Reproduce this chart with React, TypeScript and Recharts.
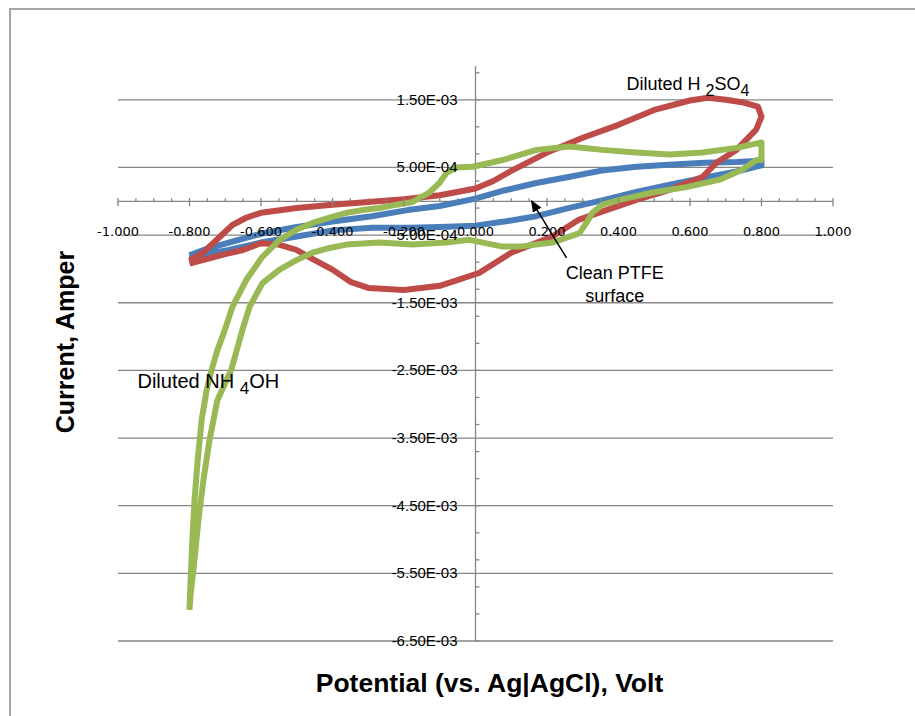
import React from 'react';
import { LineChart, Line, XAxis, YAxis, ReferenceLine, ReferenceDot } from 'recharts';

// Potential in V, current in units of 1E-03 A
const cleanPotential = [-0.8, -0.75, -0.69, -0.6, -0.5, -0.4, -0.29, -0.19, -0.1, 0.0, 0.08, 0.17, 0.26, 0.36, 0.45, 0.54, 0.64, 0.73, 0.8,
  0.8, 0.73, 0.64, 0.54, 0.45, 0.36, 0.26, 0.17, 0.08, 0.0, -0.1, -0.19, -0.29, -0.4, -0.5, -0.6, -0.69, -0.75, -0.8];
const cleanCurrent = [-0.8, -0.7, -0.61, -0.48, -0.38, -0.3, -0.22, -0.13, -0.07, 0.04, 0.16, 0.27, 0.36, 0.46, 0.51, 0.54, 0.57, 0.58, 0.6,
  0.53, 0.44, 0.35, 0.24, 0.14, 0.02, -0.1, -0.22, -0.3, -0.36, -0.38, -0.39, -0.39, -0.43, -0.52, -0.61, -0.72, -0.78, -0.84];

const acidPotential = [-0.8, -0.76, -0.72, -0.68, -0.64, -0.6, -0.5, -0.4, -0.3, -0.2, -0.1, 0.0, 0.05, 0.1, 0.2, 0.3, 0.4, 0.5, 0.6, 0.65, 0.7, 0.75, 0.79, 0.8,
  0.785, 0.73, 0.674, 0.635, 0.543, 0.45, 0.356, 0.29, 0.215, 0.1, 0.01, -0.1, -0.2, -0.3, -0.35, -0.4, -0.45, -0.5, -0.55, -0.6, -0.65, -0.7, -0.8];
const acidCurrent = [-0.88, -0.75, -0.55, -0.35, -0.24, -0.17, -0.1, -0.05, -0.01, 0.03, 0.09, 0.19, 0.3, 0.45, 0.72, 0.94, 1.13, 1.35, 1.49, 1.53, 1.5, 1.46, 1.4, 1.25,
  1.06, 0.76, 0.57, 0.36, 0.17, 0.02, -0.15, -0.27, -0.52, -0.76, -1.06, -1.25, -1.31, -1.28, -1.19, -1.01, -0.87, -0.72, -0.64, -0.62, -0.72, -0.78, -0.92];

const basePotential = [-0.8, -0.797, -0.792, -0.786, -0.777, -0.766, -0.752, -0.738, -0.722, -0.703, -0.68, -0.641, -0.596, -0.548, -0.501, -0.456, -0.408, -0.361, -0.316, -0.269, -0.221, -0.176, -0.129, -0.101, -0.081, -0.053, -0.008, 0.076, 0.171, 0.263, 0.355, 0.45, 0.543, 0.635, 0.73, 0.8,
  0.8, 0.786, 0.747, 0.683, 0.59, 0.495, 0.403, 0.355, 0.327, 0.31, 0.291, 0.215, 0.123, 0.076, -0.017, -0.081, -0.176, -0.269, -0.361, -0.408, -0.456, -0.501, -0.548, -0.596, -0.632, -0.652, -0.683, -0.722, -0.744, -0.761, -0.775, -0.786, -0.797, -0.8];
const baseCurrent = [-6.04, -5.6, -5.01, -4.42, -3.82, -3.23, -2.79, -2.49, -2.2, -1.93, -1.56, -1.16, -0.82, -0.57, -0.42, -0.32, -0.24, -0.17, -0.13, -0.1, -0.05, -0.01, 0.13, 0.27, 0.42, 0.5, 0.51, 0.61, 0.76, 0.81, 0.76, 0.72, 0.69, 0.72, 0.79, 0.87,
  0.61, 0.61, 0.47, 0.32, 0.21, 0.13, 0.02, -0.05, -0.17, -0.32, -0.47, -0.61, -0.67, -0.67, -0.57, -0.61, -0.64, -0.61, -0.64, -0.69, -0.76, -0.87, -1.01, -1.21, -1.56, -1.9, -2.49, -2.94, -3.53, -4.12, -4.71, -5.3, -5.82, -6.04];

const xMajorTicks = [-1, -0.8, -0.6, -0.4, -0.2, 0, 0.2, 0.4, 0.6, 0.8, 1];
const xTickLabels = ['-1.000', '-0.800', '-0.600', '-0.400', '-0.200', '0.000', '0.200', '0.400', '0.600', '0.800', '1.000'];
const yGridValues = [1.5, 0.5, -0.5, -1.5, -2.5, -3.5, -4.5, -5.5, -6.5];
const yTickLabels = ['1.50E-03', '5.00E-04', '-5.00E-04', '-1.50E-03', '-2.50E-03', '-3.50E-03', '-4.50E-03', '-5.50E-03', '-6.50E-03'];

const xMinorTicks: number[] = [];
for (let i = -20; i <= 20; i++) if (i % 4 !== 0) xMinorTicks.push(i * 0.05);
const yMinorTicks: number[] = [];
for (let k = 0; k <= 21; k++) yMinorTicks.push(-6.5 + k * 0.4);

const zip = (xs: number[], ys: number[]) => xs.map((x, i) => ({ x, y: ys[i] }));
const cleanData = zip(cleanPotential, cleanCurrent);
const acidData = zip(acidPotential, acidCurrent);
const baseData = zip(basePotential, baseCurrent);

const AXIS = '#868686';
const FONT = '"Liberation Sans", Arial, sans-serif';

const XTitle = (props: any) => {
  const vb = props.viewBox || {};
  return (
    <text x={vb.x + vb.width / 2 + 14} y={vb.y + 51} textAnchor="middle" fontFamily={FONT} fontWeight="bold" fontSize={26.5} fill="#000">
      Potential (vs. Ag|AgCl), Volt
    </text>
  );
};
const YTitle = (props: any) => {
  const vb = props.viewBox || {};
  const x = vb.x + 16;
  const y = 342;
  return (
    <text x={x} y={y} transform={`rotate(-90, ${x}, ${y})`} textAnchor="middle" fontFamily={FONT} fontWeight="bold" fontSize={25} fill="#000">
      Current, Amper
    </text>
  );
};

export default function App() {
  return (
    <div style={{ position: 'absolute', left: 0, top: 0, width: 915, height: 716, background: '#fff' }}>
      <div style={{ position: 'absolute', left: 9, top: 8, width: 906, height: 2, background: '#A6A6A6' }} />
      <div style={{ position: 'absolute', left: 9, top: 8, width: 2, height: 708, background: '#A6A6A6' }} />
      <LineChart width={915} height={716} margin={{ top: 66, right: 82, bottom: 15, left: 58 }}>
        <defs>
          <marker id="arrowHead" markerWidth="12" markerHeight="10" refX="11" refY="5" orient="auto" markerUnits="userSpaceOnUse">
            <path d="M0,0 L12,5 L0,10 z" fill="#000" />
          </marker>
        </defs>
        <XAxis type="number" dataKey="x" domain={[-1, 1]} ticks={xMajorTicks} allowDataOverflow axisLine={false} tickLine={false} tick={false} height={60} label={XTitle} />
        <YAxis type="number" dataKey="y" domain={[-6.5, 2]} allowDataOverflow axisLine={false} tickLine={false} tick={false} width={60} label={YTitle} />
        {yGridValues.map((v) => (
          <ReferenceLine key={'g' + v} y={v} stroke={AXIS} strokeWidth={1.3} ifOverflow="visible" />
        ))}
        <ReferenceLine x={0} stroke={AXIS} strokeWidth={1.3} ifOverflow="visible" />
        <ReferenceLine y={0} stroke={AXIS} strokeWidth={1.3} ifOverflow="visible" />
        <Line data={cleanData} dataKey="y" type="linear" stroke="#4A7EBB" strokeWidth={6} strokeLinejoin="round" dot={false} isAnimationActive={false} />
        <Line data={acidData} dataKey="y" type="linear" stroke="#BE4B48" strokeWidth={6} strokeLinejoin="round" dot={false} isAnimationActive={false} />
        <Line data={baseData} dataKey="y" type="linear" stroke="#98B954" strokeWidth={6} strokeLinejoin="round" dot={false} isAnimationActive={false} />
        {xMajorTicks.map((v) => (
          <ReferenceLine key={'xm' + v} segment={[{ x: v, y: 0.049 }, { x: v, y: -0.074 }]} stroke={AXIS} strokeWidth={1.3} ifOverflow="visible" />
        ))}
        {xMinorTicks.map((v) => (
          <ReferenceLine key={'xn' + v} segment={[{ x: v, y: 0 }, { x: v, y: 0.045 }]} stroke={AXIS} strokeWidth={1.3} ifOverflow="visible" />
        ))}
        {yMinorTicks.map((v) => (
          <ReferenceLine key={'yn' + v} segment={[{ x: 0, y: v }, { x: 0.011, y: v }]} stroke={AXIS} strokeWidth={1.3} ifOverflow="visible" />
        ))}
        {xMajorTicks.map((v, i) => (
          <ReferenceDot key={'xl' + v} x={v} y={0} r={0} ifOverflow="visible"
            shape={(p: any) => (
              <text x={p.cx} y={p.cy + 35} textAnchor="middle" fontFamily='"DejaVu Sans", Verdana, sans-serif' fontSize={13} fill="#000">{xTickLabels[i]}</text>
            )} />
        ))}
        {yGridValues.map((v, i) => (
          <ReferenceDot key={'yl' + v} x={0} y={v} r={0} ifOverflow="visible"
            shape={(p: any) => (
              <text x={p.cx - 18} y={p.cy + 5} textAnchor="end" fontFamily={FONT} fontSize={15} fill="#000">{yTickLabels[i]}</text>
            )} />
        ))}
        <ReferenceLine segment={[{ x: 0.2545, y: -0.836 }, { x: 0.1566, y: 0.007 }]} stroke="#000" strokeWidth={1.5} markerEnd="url(#arrowHead)" ifOverflow="visible" />
        <ReferenceDot x={0.4224} y={1.649} r={0} ifOverflow="visible"
          shape={(p: any) => (
            <text x={p.cx} y={p.cy} fontFamily={FONT} fontSize={18} fill="#000">
              Diluted H <tspan dy={6} fontSize={16}>2</tspan><tspan dy={-6}>SO</tspan><tspan dy={6} fontSize={16}>4</tspan>
            </text>
          )} />
        <ReferenceDot x={0.3897} y={-1.15} r={0} ifOverflow="visible"
          shape={(p: any) => (
            <text x={p.cx} y={p.cy} textAnchor="middle" fontFamily={FONT} fontSize={18} fill="#000">
              <tspan x={p.cx}>Clean PTFE</tspan>
              <tspan x={p.cx} dy={23}>surface</tspan>
            </text>
          )} />
        <ReferenceDot x={-0.9455} y={-2.76} r={0} ifOverflow="visible"
          shape={(p: any) => (
            <text x={p.cx} y={p.cy} fontFamily={FONT} fontSize={20} fill="#000">
              Diluted NH <tspan dy={6} fontSize={17}>4</tspan><tspan dy={-6}>OH</tspan>
            </text>
          )} />
      </LineChart>
    </div>
  );
}
